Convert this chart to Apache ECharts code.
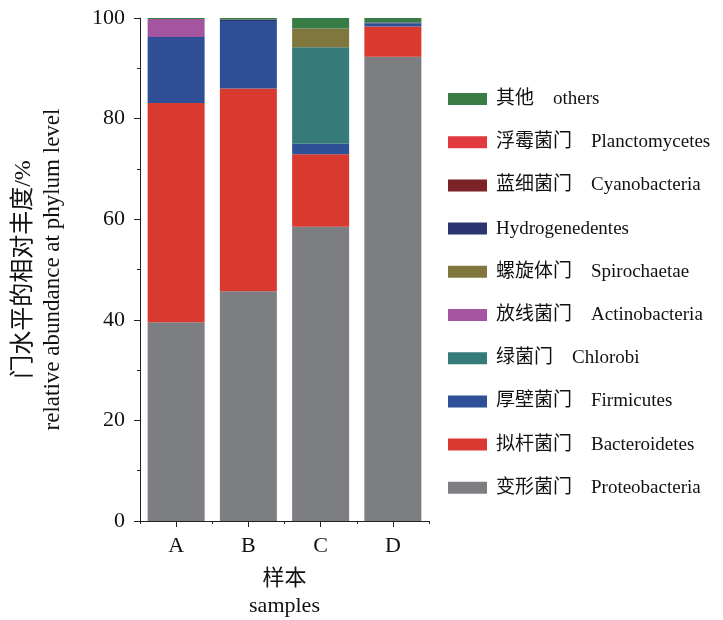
<!DOCTYPE html>
<html>
<head>
<meta charset="utf-8">
<script src="https://cdn.jsdelivr.net/npm/echarts@6/dist/echarts.min.js"></script>
<style>
  html, body { margin: 0; padding: 0; background: #fff; }
  #chart { width: 723px; height: 620px; }
</style>
</head>
<body>
<div id="chart"></div>
<script>
// samples
const categories = ['A', 'B', 'C', 'D'];
const yTicks = [0, 20, 40, 60, 80, 100];

// relative abundance (%), stacked from bottom to top
const proteobacteria = [39.5, 45.7, 58.5, 92.3];
const bacteroidetes = [43.6, 40.3, 14.4, 6.0];
const firmicutes = [13.1, 13.4, 2.1, 0.6];
const chlorobi = [0, 0, 19.2, 0];
const actinobacteria = [3.6, 0, 0, 0];
const spirochaetae = [0, 0, 3.7, 0];
const hydrogenedentes = [0, 0.3, 0, 0.2];
const cyanobacteria = [0, 0, 0, 0];
const planctomycetes = [0, 0, 0, 0];
const others = [0.2, 0.3, 2.1, 0.9];

const seriesDefs = [
  { name: '变形菌门\u3000Proteobacteria', data: proteobacteria, color: '#7d7e81' },
  { name: '拟杆菌门\u3000Bacteroidetes', data: bacteroidetes, color: '#d93a30' },
  { name: '厚壁菌门\u3000Firmicutes', data: firmicutes, color: '#2f4f97' },
  { name: '绿菌门\u3000Chlorobi', data: chlorobi, color: '#367a79' },
  { name: '放线菌门\u3000Actinobacteria', data: actinobacteria, color: '#a3559f' },
  { name: '螺旋体门\u3000Spirochaetae', data: spirochaetae, color: '#7f773d' },
  { name: 'Hydrogenedentes', data: hydrogenedentes, color: '#2b3571' },
  { name: '蓝细菌门\u3000Cyanobacteria', data: cyanobacteria, color: '#7a2226' },
  { name: '浮霉菌门\u3000Planctomycetes', data: planctomycetes, color: '#e0393f' },
  { name: '其他\u3000others', data: others, color: '#3a7c45' }
];

const font = '"Liberation Serif", "Noto Sans CJK SC", serif';

let myChart = echarts.init(document.getElementById('chart'));
myChart.setOption({
  animation: false,
  grid: { left: 140, right: 294, top: 18, bottom: 99, outerBoundsMode: 'none' },
  legend: {
    orient: 'vertical',
    left: 443,
    top: 84,
    itemWidth: 39,
    itemHeight: 12,
    itemGap: 23.2,
    icon: 'rect',
    data: seriesDefs.map(s => s.name).reverse(),
    textStyle: { fontFamily: font, fontSize: 19, lineHeight: 20, color: '#111', padding: [0, 0, 0, 4] }
  },
  xAxis: [
    {
      type: 'category',
      data: categories,
      axisLine: { lineStyle: { color: '#222', width: 1 } },
      axisTick: { show: true, length: 3, alignWithLabel: false, lineStyle: { color: '#222' } },
      axisLabel: { fontFamily: font, fontSize: 22, color: '#111', margin: 14 },
      name: '样本\nsamples',
      nameLocation: 'middle',
      nameGap: 45,
      nameTextStyle: { fontFamily: font, fontSize: 22, lineHeight: 27, color: '#111' }
    },
    {
      type: 'category',
      data: categories,
      position: 'bottom',
      axisLine: { show: false },
      axisTick: { show: true, length: 6, alignWithLabel: true, lineStyle: { color: '#222' } },
      axisLabel: { show: false }
    }
  ],
  yAxis: {
    type: 'value',
    min: yTicks[0],
    max: yTicks[yTicks.length - 1],
    interval: 20,
    axisLine: { show: true, lineStyle: { color: '#222', width: 1 } },
    axisTick: { show: true, length: 6, lineStyle: { color: '#222' } },
    minorTick: { show: true, splitNumber: 2, length: 3, lineStyle: { color: '#222' } },
    splitLine: { show: false },
    axisLabel: { fontFamily: font, fontSize: 22, color: '#111', margin: 15 },
    name: '{cn|门水平的相对丰度/%}\n{en|relative abundance at phylum level}',
    nameLocation: 'middle',
    nameGap: 73,
    nameTextStyle: {
      color: '#111',
      rich: {
        cn: { fontFamily: font, fontSize: 24, lineHeight: 29, color: '#111' },
        en: { fontFamily: font, fontSize: 23, lineHeight: 29, color: '#111' }
      }
    }
  },
  series: seriesDefs.map(s => ({
    name: s.name,
    type: 'bar',
    stack: 'total',
    barWidth: 57,
    data: s.data,
    itemStyle: { color: s.color }
  }))
});
</script>
</body>
</html>
